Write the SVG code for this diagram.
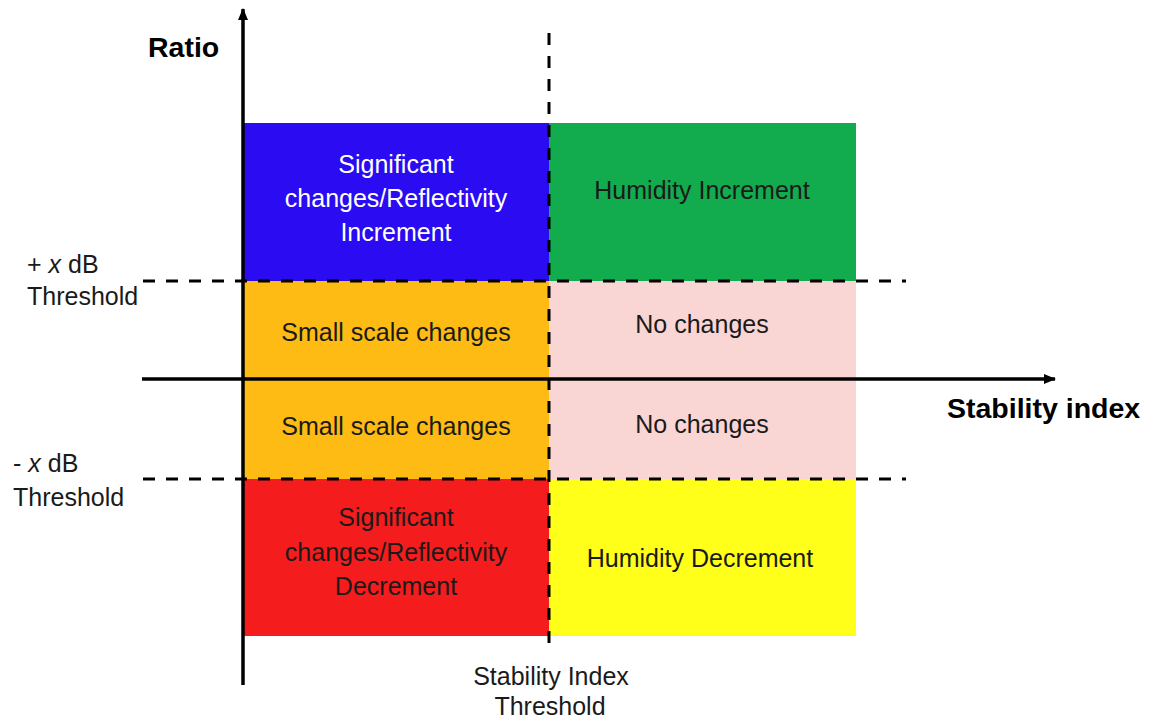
<svg xmlns="http://www.w3.org/2000/svg" width="1153" height="721" viewBox="0 0 1153 721">
<style>
.t{font-family:"Liberation Sans",Arial,sans-serif;font-size:25px;fill:#1a1a1a}
.c{text-anchor:middle}
.w{fill:#ffffff}
.b{font-family:"Liberation Sans",Arial,sans-serif;font-size:28.5px;font-weight:bold;fill:#000}
.axis{stroke:#000;stroke-width:3.5;fill:none}
.dash{stroke:#000;stroke-width:3;stroke-dasharray:12 11;fill:none}
</style>
<defs>
<marker id="arr" viewBox="0 0 12 10" refX="11" refY="5" markerWidth="12" markerHeight="10" markerUnits="userSpaceOnUse" orient="auto">
<path d="M0,0 L12,5 L0,10 Z" fill="#000"/>
</marker>
</defs>
<rect width="1153" height="721" fill="#fff"/>
<g id="cell-blue">
<rect x="243" y="123" width="306" height="158" fill="#2A0BF2"/>
<text class="t c w" x="396" y="173">Significant</text>
<text class="t c w" x="396" y="207">changes/Reflectivity</text>
<text class="t c w" x="396" y="241">Increment</text>
</g>
<g id="cell-green">
<rect x="549" y="123" width="307" height="158" fill="#12AB4E"/>
<text class="t c" x="702" y="199">Humidity Increment</text>
</g>
<g id="cell-orange-top">
<rect x="243" y="281" width="306" height="98" fill="#FDBB14"/>
<text class="t c" x="396" y="341">Small scale changes</text>
</g>
<g id="cell-orange-bottom">
<rect x="243" y="379" width="306" height="100" fill="#FDBB14"/>
<text class="t c" x="396" y="435">Small scale changes</text>
</g>
<g id="cell-pink">
<rect x="549" y="281" width="307" height="198" fill="#F9D5D4"/>
<text class="t c" x="702" y="333">No changes</text>
<text class="t c" x="702" y="433">No changes</text>
</g>
<g id="cell-red">
<rect x="243" y="479" width="306" height="157" fill="#F41C1C"/>
<text class="t c" x="396" y="526">Significant</text>
<text class="t c" x="396" y="561">changes/Reflectivity</text>
<text class="t c" x="396" y="595">Decrement</text>
</g>
<g id="cell-yellow">
<rect x="549" y="479" width="307" height="157" fill="#FFFF1A"/>
<text class="t c" x="700" y="567">Humidity Decrement</text>
</g>
<g id="connectors">
<line class="dash" x1="143" y1="281" x2="906" y2="281"/>
<line class="dash" x1="143" y1="479" x2="906" y2="479"/>
<line class="dash" x1="549" y1="33" x2="549" y2="643"/>
<line class="axis" x1="243" y1="685" x2="243" y2="9" marker-end="url(#arr)"/>
<line class="axis" x1="142" y1="379" x2="1055" y2="379" marker-end="url(#arr)"/>
</g>
<g id="labels">
<text class="b" x="148" y="57">Ratio</text>
<text class="b" x="947" y="418">Stability index</text>
<text class="t" x="27" y="273">+ <tspan font-style="italic">x</tspan> dB</text>
<text class="t" x="27" y="305">Threshold</text>
<text class="t" x="13" y="472">- <tspan font-style="italic">x</tspan> dB</text>
<text class="t" x="13" y="506">Threshold</text>
<text class="t c" x="551" y="685">Stability Index</text>
<text class="t c" x="550" y="715">Threshold</text>
</g>
</svg>
